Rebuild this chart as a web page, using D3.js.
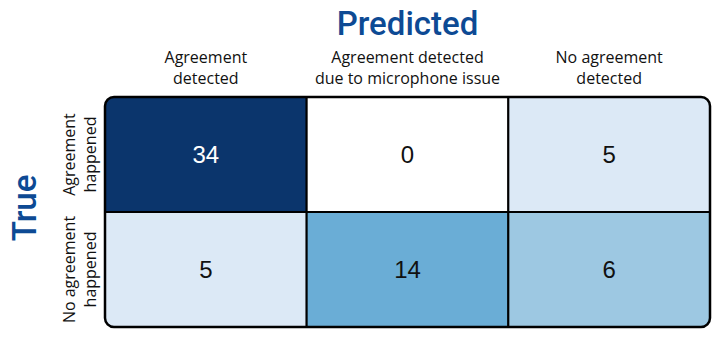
<!DOCTYPE html>
<html>
<head>
<meta charset="utf-8">
<script src="https://cdn.jsdelivr.net/npm/d3@7"></script>
<style>
  body { margin: 0; background: #fff; }
  text { font-family: "Open Sans", "Noto Sans", sans-serif; }
</style>
</head>
<body>
<div id="chart"></div>
<script>
var svgWidth = 726;
var svgHeight = 350;

// data
var predLabels = [["Agreement", "detected"], ["Agreement detected", "due to microphone issue"], ["No agreement", "detected"]];
var trueLabels = [["Agreement", "happened"], ["No agreement", "happened"]];
var counts = [
  [34, 0, 5],
  [5, 14, 6]
];

var grid = { left: 105, top: 97, right: 710, bottom: 327 };

var svg = d3.select("#chart")
  .append("svg")
  .attr("width", svgWidth)
  .attr("height", svgHeight);

var x = d3.scaleBand().domain([0, 1, 2]).range([grid.left, grid.right]);
var y = d3.scaleBand().domain([0, 1]).range([grid.top, grid.bottom]);

var color = d3.scaleLinear()
  .domain([0, 5, 6, 14, 34])
  .range(["#ffffff", "#dce9f6", "#9dc8e2", "#6aadd6", "#0b356c"]);

var cells = [];
counts.forEach(function(row, i) {
  row.forEach(function(v, j) { cells.push({ r: i, c: j, v: v }); });
});

svg.append("clipPath").attr("id", "clip")
  .append("rect")
  .attr("x", grid.left).attr("y", grid.top)
  .attr("width", grid.right - grid.left).attr("height", grid.bottom - grid.top)
  .attr("rx", 9);

var g = svg.append("g").attr("clip-path", "url(#clip)");

g.selectAll("rect.cell")
  .data(cells)
  .enter()
  .append("rect")
  .attr("class", "cell")
  .attr("x", d => x(d.c))
  .attr("y", d => y(d.r))
  .attr("width", x.bandwidth())
  .attr("height", y.bandwidth())
  .attr("fill", d => color(d.v))
  .attr("stroke", "#000")
  .attr("stroke-width", 2);

// outer border
svg.append("rect")
  .attr("x", grid.left).attr("y", grid.top)
  .attr("width", grid.right - grid.left).attr("height", grid.bottom - grid.top)
  .attr("rx", 9)
  .attr("fill", "none")
  .attr("stroke", "#000")
  .attr("stroke-width", 2.5);

// values
svg.selectAll("text.val")
  .data(cells)
  .enter()
  .append("text")
  .attr("class", "val")
  .attr("x", d => x(d.c) + x.bandwidth() / 2)
  .attr("y", d => y(d.r) + y.bandwidth() / 2)
  .attr("dy", "0.35em")
  .attr("text-anchor", "middle")
  .style("font-family", "'Liberation Sans', Arial, sans-serif")
  .style("font-size", "24px")
  .attr("fill", d => d.v > 20 ? "#fff" : "#111")
  .text(d => d.v);

// column labels, one text per line
var colLines = [];
predLabels.forEach(function(lines, i) {
  lines.forEach(function(s, k) { colLines.push({ i: i, k: k, s: s }); });
});
svg.selectAll("text.col")
  .data(colLines)
  .enter()
  .append("text")
  .attr("class", "col")
  .attr("text-anchor", "middle")
  .attr("x", d => x(d.i) + x.bandwidth() / 2)
  .attr("y", d => 63 + d.k * 21)
  .style("font-size", "16px")
  .attr("fill", "#111")
  .text(d => d.s);

// row labels
var rowLines = [];
trueLabels.forEach(function(lines, i) {
  lines.forEach(function(s, k) { rowLines.push({ i: i, k: k, s: s }); });
});
svg.selectAll("text.row")
  .data(rowLines)
  .enter()
  .append("text")
  .attr("class", "row")
  .attr("text-anchor", "middle")
  .attr("transform", d => `translate(${75 + d.k * 21}, ${y(d.i) + y.bandwidth() / 2}) rotate(-90)`)
  .style("font-size", "16px")
  .attr("fill", "#111")
  .text(d => d.s);

// axis titles
svg.append("text")
  .attr("x", (grid.left + grid.right) / 2)
  .attr("y", 35)
  .attr("text-anchor", "middle")
  .style("font-family", "Roboto, sans-serif")
  .style("font-size", "33px")
  .style("font-weight", 500)
  .attr("fill", "#0d4a94")
  .text("Predicted");

svg.append("text")
  .attr("transform", "translate(36, 208) rotate(-90)")
  .attr("text-anchor", "middle")
  .style("font-family", "Roboto, sans-serif")
  .style("font-size", "33px")
  .style("font-weight", 500)
  .attr("fill", "#0d4a94")
  .text("True");
</script>
</body>
</html>
